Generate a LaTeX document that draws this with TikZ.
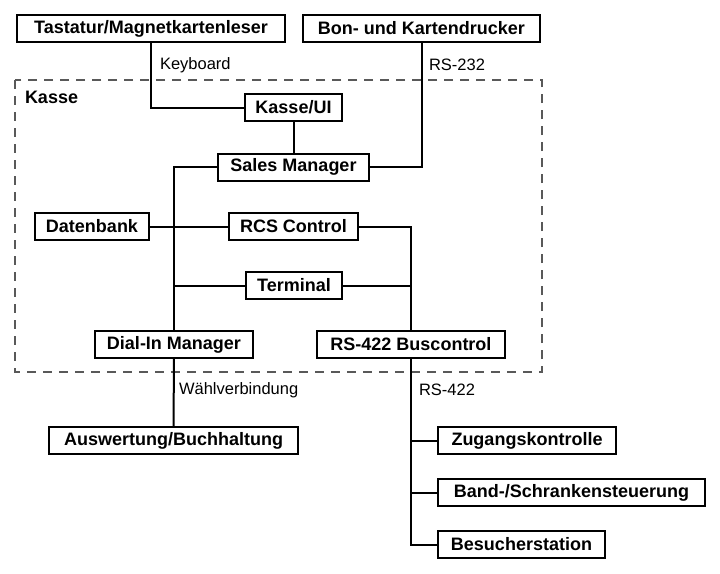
\documentclass[tikz,border=0pt]{standalone}
\usepackage{fontspec}
\setmainfont{Liberation Sans}
\begin{document}
\begin{tikzpicture}[x=1pt,y=-1pt,line width=2pt,
  every node/.style={draw,fill=white,minimum height=27pt,inner sep=0pt,font=\fontsize{18}{20}\selectfont\bfseries},
  lbl/.style={draw=none,fill=none,minimum height=0pt,anchor=west,font=\fontsize{16.5}{18}\selectfont}]
\useasboundingbox (0,0) rectangle (720,573);

\draw[gray!70!black,line width=1.3pt,dash pattern=on 9pt off 7pt] (15,80) rectangle (542,372);

\node[minimum width=268pt] (tast) at (151,28.5) {Tastatur/Magnetkartenleser};
\node[minimum width=237pt] (bon) at (421.5,28.5) {Bon- und Kartendrucker};

\node[minimum width=97pt] (ui) at (293.5,107.5) {Kasse/UI};
\node[minimum width=151pt] (sales) at (293.5,167) {Sales Manager};
\node[minimum width=114pt] (db) at (92,226.5) {Datenbank};
\node[minimum width=129pt] (rcs) at (293.5,226.5) {RCS Control};
\node[minimum width=96pt] (term) at (294,285.5) {Terminal};
\node[minimum width=158pt] (dial) at (174,344.5) {Dial-In Manager};
\node[minimum width=188pt] (rs) at (411,344) {RS-422 Buscontrol};

\node[minimum width=249pt] (ausw) at (173.5,440.5) {Auswertung/Buchhaltung};
\node[minimum width=178pt] (zug) at (527,440.5) {Zugangskontrolle};
\node[minimum width=267pt] (band) at (571.5,492.5) {Band-/Schrankensteuerung};
\node[minimum width=167pt] (besuch) at (521.5,544.5) {Besucherstation};

\draw (tast) |- (ui);
\draw (bon) |- (sales);
\draw (ui) -- (sales);
\draw (sales) -| (dial);
\draw (db) -- (rcs);
\draw (dial |- term) -- (term);
\draw (rcs) -| (rs);
\draw (term) -- (rs |- term);
\draw (dial) -- (ausw);
\foreach \n in {zug,band,besuch}
  \draw (rs) |- (\n);

\node[lbl] at (159,65) {Keyboard};
\node[lbl] at (428,65) {RS-232};
\node[lbl,font=\fontsize{18}{20}\selectfont\bfseries] at (24,97) {Kasse};
\node[lbl] at (178,390) {Wählverbindung};
\node[lbl] at (418,390) {RS-422};

\end{tikzpicture}
\end{document}
